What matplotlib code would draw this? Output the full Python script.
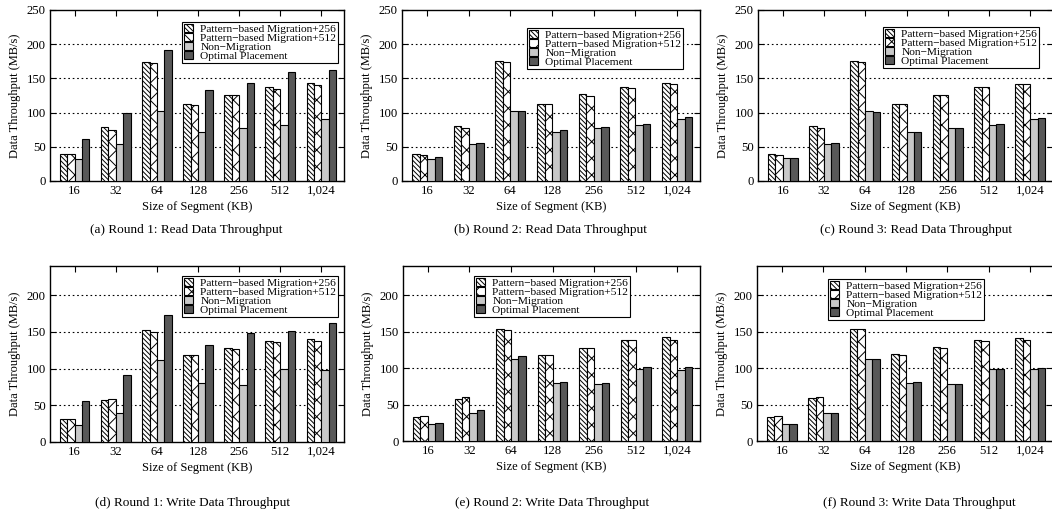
import matplotlib
matplotlib.use("Agg")
import matplotlib.pyplot as plt
import numpy as np
from matplotlib.patches import Patch

plt.rcParams['font.family'] = ['Liberation Serif', 'DejaVu Serif']
plt.rcParams['hatch.linewidth'] = 0.7

categories = ["16", "32", "64", "128", "256", "512", "1,024"]
series_names = ["Pattern\u2212based Migration+256", "Pattern\u2212based Migration+512",
                "Non\u2212Migration", "Optimal Placement"]

# Round 1 Read
r1_read_pm256 = [39, 79, 174, 112, 126, 137, 143]
r1_read_pm512 = [39, 75, 172, 111, 126, 134, 141]
r1_read_nonmig = [32, 54, 102, 72, 78, 82, 91]
r1_read_opt = [62, 99, 191, 133, 143, 159, 163]
# Round 2 Read
r2_read_pm256 = [39, 80, 175, 113, 127, 138, 144]
r2_read_pm512 = [38, 77, 174, 112, 124, 136, 142]
r2_read_nonmig = [32, 54, 102, 72, 78, 82, 91]
r2_read_opt = [35, 56, 103, 74, 79, 84, 93]
# Round 3 Read
r3_read_pm256 = [40, 80, 175, 113, 126, 138, 142]
r3_read_pm512 = [38, 78, 174, 112, 125, 137, 142]
r3_read_nonmig = [33, 54, 103, 72, 78, 82, 91]
r3_read_opt = [33, 55, 101, 72, 78, 83, 92]
# Round 1 Write
r1_write_pm256 = [32, 57, 153, 118, 128, 138, 141]
r1_write_pm512 = [32, 59, 150, 119, 127, 136, 138]
r1_write_nonmig = [23, 39, 112, 80, 78, 99, 98]
r1_write_opt = [56, 92, 173, 132, 148, 152, 162]
# Round 2 Write
r2_write_pm256 = [33, 58, 153, 118, 128, 139, 142]
r2_write_pm512 = [34, 60, 152, 118, 128, 138, 138]
r2_write_nonmig = [23, 39, 112, 80, 78, 99, 98]
r2_write_opt = [25, 42, 116, 81, 79, 101, 101]
# Round 3 Write
r3_write_pm256 = [33, 59, 153, 119, 129, 138, 141]
r3_write_pm512 = [34, 60, 153, 118, 127, 137, 139]
r3_write_nonmig = [23, 39, 112, 80, 78, 99, 99]
r3_write_opt = [23, 39, 113, 81, 78, 99, 100]

captions = ["(a) Round 1: Read Data Throughput", "(b) Round 2: Read Data Throughput",
            "(c) Round 3: Read Data Throughput", "(d) Round 1: Write Data Throughput",
            "(e) Round 2: Write Data Throughput", "(f) Round 3: Write Data Throughput"]

panels = [
    [r1_read_pm256, r1_read_pm512, r1_read_nonmig, r1_read_opt],
    [r2_read_pm256, r2_read_pm512, r2_read_nonmig, r2_read_opt],
    [r3_read_pm256, r3_read_pm512, r3_read_nonmig, r3_read_opt],
    [r1_write_pm256, r1_write_pm512, r1_write_nonmig, r1_write_opt],
    [r2_write_pm256, r2_write_pm512, r2_write_nonmig, r2_write_opt],
    [r3_write_pm256, r3_write_pm512, r3_write_nonmig, r3_write_opt],
]

W, H = 1052, 517
fig = plt.figure(figsize=(W / 100, H / 100), dpi=100)

# (left, right, top, bottom) in pixels
boxes = [(50, 344, 10, 181), (402, 700, 10, 181), (758, 1053, 10, 181),
         (50, 344, 266, 442), (403, 700, 266, 441), (757, 1053, 266, 441)]
# legend upper-left corner in pixels
leg_pos = [(182, 22), (527, 28), (883, 27), (182, 276), (474, 276), (828, 279)]
cap_x = [186, 550, 916, 193, 552, 919]

fills = ['white', 'white', '#c8c8c8', '#585858']
hatches = ['\\' * 7, 'xx', None, None]

x = np.arange(len(categories))
bw = 0.18
for i, data in enumerate(panels):
    l, r, t, b = boxes[i]
    ax = fig.add_axes([l / W, 1 - b / H, (r - l) / W, (b - t) / H])
    for k in range(4):
        ax.bar(x + (k - 1.5) * bw, data[k], bw, color=fills[k], edgecolor='black',
               linewidth=0.8, hatch=hatches[k], zorder=3)
    ax.set_xlim(-0.6, 6.55)
    if i < 3:
        ax.set_ylim(0, 250)
        ax.set_yticks([0, 50, 100, 150, 200, 250])
    else:
        ax.set_ylim(0, 240)
        ax.set_yticks([0, 50, 100, 150, 200])
    for gv in [50, 100, 150, 200]:
        ax.axhline(gv, color='black', linestyle=(0, (1.5, 2.5)), linewidth=0.8, zorder=1)
    ax.set_xticks(x)
    ax.set_xticklabels(categories)
    ax.tick_params(direction='in', top=True, right=True, labelsize=9.2, length=4, width=0.8, pad=3)
    for s in ax.spines.values():
        s.set_linewidth(1.0)
    ax.set_xlabel("Size of Segment (KB)", fontsize=9, labelpad=3)
    ax.set_ylabel("Data Throughput (MB/s)", fontsize=9, labelpad=4)
    handles = [Patch(facecolor=fills[k], edgecolor='black', hatch=hatches[k], linewidth=0.8)
               for k in range(4)]
    lx, ly = leg_pos[i]
    leg = ax.legend(handles, series_names, loc='upper left',
                    bbox_to_anchor=(lx / W, 1 - ly / H), bbox_transform=fig.transFigure,
                    fontsize=8.2, frameon=True, fancybox=False, framealpha=1,
                    edgecolor='black', borderpad=0.2, labelspacing=-0.1,
                    handlelength=0.8, handleheight=0.7, handletextpad=0.6, borderaxespad=0)
    leg.get_frame().set_linewidth(0.8)
    leg.set_zorder(5)
    cy = 230 if i < 3 else 503
    fig.text(cap_x[i] / W, 1 - cy / H, captions[i], ha='center', va='center', fontsize=9.5)

fig.savefig("out.png", dpi=100)
